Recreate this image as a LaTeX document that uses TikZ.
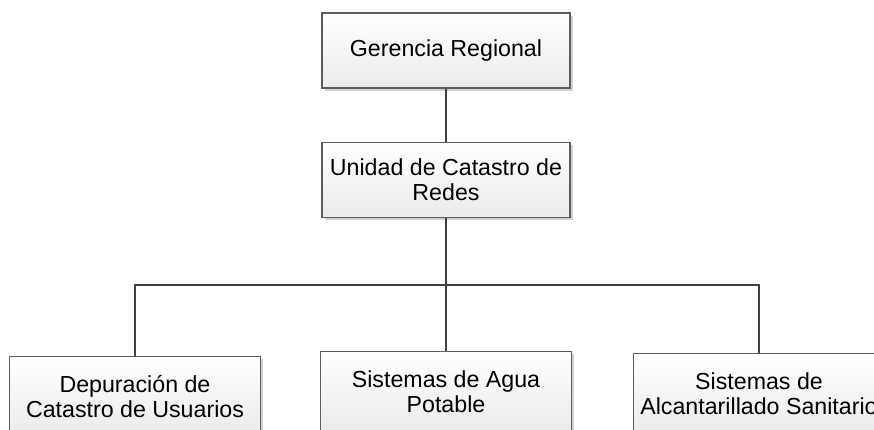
\documentclass[tikz,border=0pt]{standalone}
\usepackage{fontspec}
\setmainfont{Liberation Sans}
\usetikzlibrary{shadows}
\definecolor{linegray}{HTML}{404040}
\definecolor{boxgray}{HTML}{5C5C5C}

\begin{document}
\begin{tikzpicture}[x=1pt,y=-1pt,
    unit/.style={draw=boxgray, line width=1.2pt, top color=white, bottom color=black!8,
      minimum width=248pt, minimum height=75pt, inner sep=0pt, align=center,
      font=\fontsize{23.2}{25}\selectfont,
      drop shadow={shadow xshift=2.5pt, shadow yshift=-2.5pt, fill=black!30, opacity=0.6}},
    leaf/.style={unit, minimum width=251pt, minimum height=80pt, anchor=north},
    link/.style={draw=linegray, line width=1.4pt}
    ]
    \clip (0,0) rectangle (874,429);
    \node[unit] (ger) at (446,50.5) {Gerencia Regional};
    \node[unit] (uni) at (446,180) {Unidad de Catastro de\\Redes};
    \node[leaf] (dep) at (135,356) {Depuración de\\Catastro de Usuarios};
    \node[leaf] (agua) at (446,351) {Sistemas de Agua\\Potable};
    \node[leaf] (alc) at (759,353) {Sistemas de\\Alcantarillado Sanitario};
    \coordinate (fork) at (446,285);

    \draw[link] (ger.south) -- (uni.north);
    \draw[link] (uni.south) -- (fork);
    \draw[link] (fork) -| (dep.north);
    \draw[link] (fork) -- (agua.north);
    \draw[link] (fork) -| (alc.north);
\end{tikzpicture}
\end{document}
